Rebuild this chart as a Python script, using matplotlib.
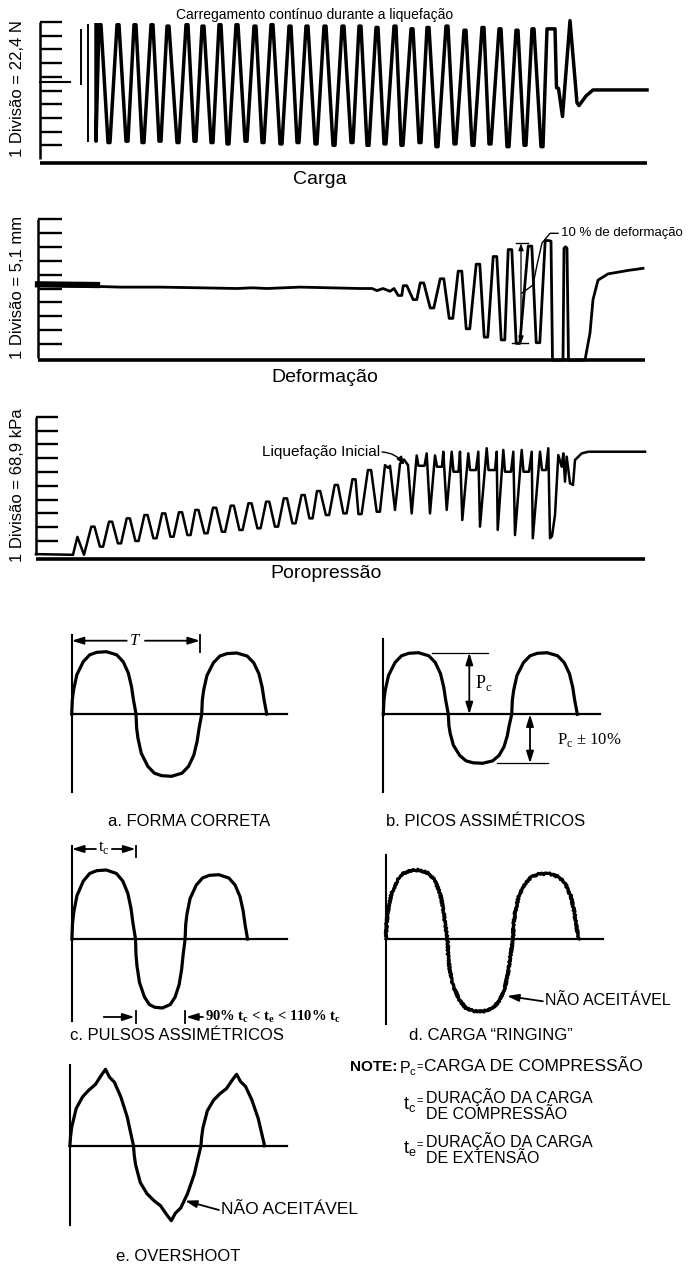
import numpy as np
import matplotlib
matplotlib.use('Agg')
import matplotlib.pyplot as plt

# ======================= DATA =======================
div_ticks = [1, 2, 3, 4, 5, 6, 7, 8, 9, 10]

# --- Panel 1 : Carga (values in divisions) ---
p1_peak_x = [100, 118, 135, 152, 168, 187, 203, 220, 237, 255, 272, 290, 307,
             325, 343, 360, 377, 395, 412, 428, 447, 465, 483, 500, 517, 533]
p1_peak_v = [9.8, 9.8, 9.8, 9.8, 9.7, 9.8, 9.7, 9.8, 9.8, 9.7, 9.8, 9.7, 9.7,
             9.7, 9.7, 9.7, 9.6, 9.7, 9.5, 9.6, 9.7, 9.4, 9.6, 9.5, 9.4, 9.5]
p1_trough_x = [109, 127, 143, 160, 178, 195, 212, 228, 246, 263, 281, 298, 316,
               334, 352, 368, 385, 402, 420, 437, 455, 473, 490, 508, 525, 542]
p1_trough_v = [1.2, 1.3, 1.2, 1.3, 1.2, 1.3, 1.2, 1.1, 1.3, 1.2, 1.1, 1.2, 1.1,
               1.0, 1.2, 1.0, 1.1, 1.0, 1.2, 0.9, 1.1, 1.0, 1.1, 0.9, 1.0, 0.9]
p1_start_x = [96, 96]
p1_start_v = [9.8, 1.3]
p1_tail_x = [547, 555, 556.5, 558.5, 562.5, 570, 577, 579, 586, 593, 647]
p1_tail_v = [9.5, 9.5, 5.2, 5.15, 3.1, 10.1, 4.1, 3.9, 4.6, 5.04, 5.04]
p1_vlines_x = [81, 88]
p1_vlines_lo = [5.5, 1.3]
p1_vlines_hi = [9.4, 9.8]

# --- Panel 2 : Deformação ---
p2_flat_x = [38, 60, 97, 120, 160, 200, 237, 252, 267, 300, 330, 360, 372, 377, 383, 390, 394]
p2_flat_v = [5.25, 5.2, 5.15, 5.1, 5.1, 5.05, 5.0, 5.05, 5.0, 5.1, 5.05, 5.0, 5.0, 4.85, 5.0, 4.8, 5.0]
p2_band_x = [38, 97]
p2_band_v = [5.3, 5.25]
p2_ext_x = [400, 405, 415, 422, 432, 442, 451, 460, 468, 478, 486, 495, 503, 510, 518, 530, 538, 547]
p2_ext_v = [4.5, 5.2, 4.2, 5.4, 3.6, 5.7, 2.85, 6.25, 2.1, 6.75, 1.5, 7.3, 1.3, 7.8, 1.05, 8.05, 1.1, 8.45]
p2_tail_x = [551, 552.5, 563, 564, 565.5, 567, 568.5, 585, 590, 593, 598, 608, 628, 643]
p2_tail_v = [8.4, -0.15, -0.15, 7.9, 8.0, 7.9, -0.15, -0.15, 1.8, 4.2, 5.6, 6.05, 6.3, 6.45]
p2_leader_x = [558, 550, 542, 537, 533, 522]
p2_leader_v = [8.97, 8.97, 8.27, 6.69, 5.25, 4.68]

# --- Panel 3 : Poropressão ---
p3_start_x = [36, 73, 77.4, 84]
p3_start_v = [0.05, 0.0, 1.3, 0.0]
p3_peak_x = [92.9, 110.6, 128.3, 146, 163.7, 180.5, 196.9, 214.6, 232.3, 250,
             267.7, 285.4, 303.1, 318.6, 336.3, 354, 369.5]
p3_peak_v = [2.04, 2.4, 2.64, 2.88, 3.0, 3.08, 3.25, 3.41, 3.56, 3.73,
             3.85, 4.09, 4.33, 4.62, 5.06, 5.47, 6.14]
p3_trough_x = [101.5, 119.5, 137, 155, 172, 189, 206, 223.5, 241, 259,
               276.5, 294, 311, 327.5, 345, 360, 378.3]
p3_trough_v = [0.59, 0.83, 1.0, 1.2, 1.31, 1.43, 1.56, 1.67, 1.8, 1.92,
               2.04, 2.28, 2.64, 2.88, 3.0, 2.95, 3.12]
p3_tail_x = [385, 388, 390, 395, 400, 404, 408, 411.7,
             416.7, 418.5, 424.5, 426.7, 430,
             435, 437, 442, 443.3, 446.7,
             451.7, 453.5, 458.5, 460, 462.3,
             468.3, 470, 476, 478.3, 480,
             486.7, 488.5, 495, 496.7, 497.7,
             503.3, 505, 511, 513.3, 515,
             521.7, 523.5, 529, 531.7, 532.8,
             540, 542, 546, 548.3, 550, 552, 555,
             558.3, 561.7, 563.3, 565, 566.7, 570, 573,
             575, 581.7, 588.3, 645]
p3_tail_v = [6.5, 6.3, 6.45, 3.25, 6.6, 6.9, 6.5, 3.0,
             7.2, 6.45, 6.45, 7.35, 3.0,
             7.2, 6.38, 6.38, 7.47, 3.25,
             7.47, 6.02, 6.02, 7.47, 2.52,
             7.35, 6.14, 6.14, 7.47, 2.04,
             7.72, 6.14, 6.14, 7.47, 1.8,
             7.6, 6.02, 6.02, 7.47, 1.43,
             7.6, 6.02, 6.02, 7.47, 1.2,
             7.47, 6.14, 6.14, 7.72, 1.2, 1.35, 2.88,
             7.23, 6.38, 7.35, 5.3, 7.11, 5.18, 5.06,
             6.87, 7.35, 7.47, 7.47]

# --- Pulse-shape diagrams (half-wave durations and amplitudes, px) ---
half_prof_t = [0, 0.01, 0.03, 0.08, 0.18, 0.28, 0.39, 0.54, 0.70, 0.80, 0.88, 0.93, 0.96, 0.99, 1.0]
half_prof_v = [0, 0.23, 0.39, 0.63, 0.84, 0.95, 0.99, 1.0, 0.95, 0.84, 0.66, 0.44, 0.23, 0.06, 0]
over_prof_t = [0, 0.01, 0.03, 0.1, 0.2, 0.3, 0.4, 0.5, 0.56, 0.62, 0.7, 0.8, 0.9, 0.96, 1.0]
over_prof_v = [0, 0.12, 0.25, 0.49, 0.64, 0.73, 0.8, 0.93, 1.0, 0.9, 0.83, 0.64, 0.38, 0.15, 0]

a_durs = [64.3, 65.7, 65.0];  a_amps = [62.3, -62.3, 61.0]
b_durs = [65.0, 63.4, 65.6];  b_amps = [61.6, -49.0, 61.6]
c_durs = [63.6, 49.6, 62.4];  c_amps = [69.0, -69.0, 64.3]
d_durs = [61.6, 65.5, 65.6];  d_amps = [69.0, -72.6, 65.4]
e_durs = [63.6, 67.5, 63.6];  e_amps = [76.4, -75.0, 71.4]

# ======================= FIGURE =======================
W, H = 690, 1265
plt.rcParams['font.family'] = ['Liberation Sans', 'DejaVu Sans']
fig = plt.figure(figsize=(W / 100, H / 100), dpi=100)
fig.patch.set_facecolor('white')
K = 'black'


def px_axes(x0, y0, x1, y1):
    ax = fig.add_axes([x0 / W, 1 - y1 / H, (x1 - x0) / W, (y1 - y0) / H])
    ax.axis('off')
    return ax


def ftext(x, y, s, **kw):
    kw.setdefault('ha', 'center')
    kw.setdefault('va', 'center')
    fig.text(x / W, 1 - y / H, s, **kw)


def strip_axes(top, bottom, zero, ppd):
    ax = px_axes(0, top, W, bottom)
    ax.set_xlim(0, W)
    ax.set_ylim((zero - bottom) / ppd, (zero - top) / ppd)
    return ax


def draw_scale(ax, spine_x, tick_end, base_v, base_end):
    ax.plot([spine_x, spine_x], [0, div_ticks[-1]], color=K, lw=1.8, solid_capstyle='butt')
    for t in div_ticks:
        ax.plot([spine_x, tick_end], [t, t], color=K, lw=1.7, solid_capstyle='butt')
    ax.plot([spine_x, base_end], [base_v, base_v], color=K, lw=2.6, solid_capstyle='butt')


def interleave(ax_, av, bx, bv):
    x = np.empty(len(ax_) + len(bx))
    v = np.empty_like(x)
    x[0::2], x[1::2] = ax_, bx
    v[0::2], v[1::2] = av, bv
    return x, v


def widen(xs, vs, w):
    ox, ov = [], []
    for xc, vc in zip(xs, vs):
        ox += [xc - w, xc + w]
        ov += [vc, vc]
    return ox, ov


# ---------- Panel 1 ----------
ax1 = strip_axes(0, 200, 159, 13.7)
draw_scale(ax1, 40, 62, -0.31, 647)
ax1.plot([40, 70], [5.6, 5.6], color=K, lw=1.5)
zx, zv = interleave(p1_peak_x, p1_peak_v, p1_trough_x, p1_trough_v)
zx, zv = widen(zx, zv, 1.0)
x1 = np.concatenate([p1_start_x, zx, p1_tail_x])
v1 = np.concatenate([p1_start_v, zv, p1_tail_v])
ax1.plot(x1, v1, color=K, lw=2.5, solid_joinstyle='round')
for xv, lo, hi in zip(p1_vlines_x, p1_vlines_lo, p1_vlines_hi):
    ax1.plot([xv, xv], [lo, hi], color=K, lw=1.4)
ftext(315, 15, 'Carregamento contínuo durante a liquefação', fontsize=10)
ftext(320, 180, 'Carga', fontsize=14)
ftext(18, 89, '1 Divisão = 22,4 N', fontsize=12, rotation=90)

# ---------- Panel 2 ----------
ax2 = strip_axes(200, 390, 358, 13.9)
draw_scale(ax2, 38.3, 61.7, -0.15, 645)
ax2.plot(p2_band_x, p2_band_v, color=K, lw=4.5)
ex, ev = widen(p2_ext_x, p2_ext_v, 1.8)
x2 = np.concatenate([p2_flat_x, ex, p2_tail_x])
v2 = np.concatenate([p2_flat_v, ev, p2_tail_v])
ax2.plot(x2, v2, color=K, lw=2.0, solid_joinstyle='round')
ax2.plot(p2_leader_x, p2_leader_v, color=K, lw=1.0)
ax2.annotate('', xy=(521, 8.25), xytext=(521, 1.06),
             arrowprops=dict(arrowstyle='<|-|>,head_length=0.4,head_width=0.15',
                             lw=0.9, color=K, shrinkA=0, shrinkB=0))
ax2.plot([516, 528], [8.25, 8.25], color=K, lw=1.0)
ax2.plot([512, 528], [1.06, 1.06], color=K, lw=1.0)
ftext(561, 233.3, '10 % de deformação', fontsize=9.5, ha='left')
ftext(325, 377, 'Deformação', fontsize=14)
ftext(18, 287.5, '1 Divisão = 5,1 mm', fontsize=12, rotation=90)

# ---------- Panel 3 ----------
ax3 = strip_axes(390, 600, 554.8, 13.8)
draw_scale(ax3, 36, 57.5, -0.3, 645)
zx3, zv3 = interleave(p3_peak_x, p3_peak_v, p3_trough_x, p3_trough_v)
zx3, zv3 = widen(zx3, zv3, 1.6)
x3 = np.concatenate([p3_start_x, zx3, p3_tail_x])
v3 = np.concatenate([p3_start_v, zv3, p3_tail_v])
ax3.plot(x3, v3, color=K, lw=1.8, solid_joinstyle='round')
ax3.annotate('', xy=(404.3, 6.5), xytext=(382, 7.45),
             arrowprops=dict(arrowstyle='-|>,head_length=0.5,head_width=0.18',
                             connectionstyle='arc3,rad=-0.25', lw=1.0, color=K,
                             shrinkA=0, shrinkB=0))
ftext(380, 451.7, 'Liquefação Inicial', fontsize=11, ha='right')
ftext(326, 574, 'Poropressão', fontsize=14)
ftext(18, 485, '1 Divisão = 68,9 kPa', fontsize=12, rotation=90)


# ---------- Pulse diagrams ----------
def diag_axes(ox, oy, x0, x1, y0, y1):
    ax = px_axes(x0, y0, x1, y1)
    ax.set_xlim(x0 - ox, x1 - ox)
    ax.set_ylim(oy - y1, oy - y0)
    return ax


def wave(durs, amps, pt, pv):
    xs, ys, t0 = [], [], 0.0
    for d, a in zip(durs, amps):
        xs.extend(t0 + np.asarray(pt) * d)
        ys.extend(a * np.asarray(pv))
        t0 += d
    return np.array(xs), np.array(ys)


def frame(ax, ylo, yhi, xlen):
    ax.plot([0, 0], [ylo, yhi], color=K, lw=1.5)
    ax.plot([0, xlen], [0, 0], color=K, lw=1.6)


def arrow(ax, x0, y0, x1, y1, style='-|>', lw=1.3):
    ax.annotate('', xy=(x1, y1), xytext=(x0, y0),
                arrowprops=dict(arrowstyle=style + ',head_length=0.7,head_width=0.22',
                                lw=lw, color=K, shrinkA=0, shrinkB=0))


WLW = 2.3
serif = ['Liberation Serif', 'DejaVu Serif']

# a
axa = diag_axes(71.7, 714, 55, 300, 625, 805)
frame(axa, -78, 79, 215.3)
wx, wy = wave(a_durs, a_amps, half_prof_t, half_prof_v)
axa.plot(wx, wy, color=K, lw=WLW, solid_joinstyle='round')
arrow(axa, 55, 73.3, 0, 73.3)
arrow(axa, 73.3, 73.3, 128.3, 73.3)
axa.plot([128.3, 128.3], [62.3, 79], color=K, lw=1.3)
axa.text(63.3, 73.3, 'T', fontsize=12, style='italic', family=serif, ha='center', va='center')
ftext(189, 822, 'a. FORMA CORRETA', fontsize=12)

# b
axb = diag_axes(383.3, 714.3, 370, 640, 625, 805)
frame(axb, -77.7, 75.3, 216.7)
wx, wy = wave(b_durs, b_amps, half_prof_t, half_prof_v)
axb.plot(wx, wy, color=K, lw=WLW, solid_joinstyle='round')
axb.plot([48.4, 105], [61.6, 61.6], color=K, lw=0.9)
arrow(axb, 86, 0, 86, 61.6, style='<|-|>')
axb.text(92, 31, r'P$_\mathregular{c}$', fontsize=13, family=serif, ha='left', va='center')
axb.plot([113.4, 165], [-49, -49], color=K, lw=0.9)
arrow(axb, 146.7, 0, 146.7, -49, style='<|-|>')
axb.text(173.4, -25.7, r'P$_\mathregular{c}$ ± 10%', fontsize=12, family=serif, ha='left', va='center')
ftext(486, 822, 'b. PICOS ASSIMÉTRICOS', fontsize=12)

# c
axc = diag_axes(71.9, 939, 55, 380, 840, 1024)
frame(axc, -81.7, 93, 214.6)
wx, wy = wave(c_durs, c_amps, half_prof_t, half_prof_v)
axc.plot(wx, wy, color=K, lw=WLW, solid_joinstyle='round')
arrow(axc, 24, 90, 0, 90)
arrow(axc, 40, 90, 63.6, 90)
axc.plot([63.6, 63.6], [82, 93], color=K, lw=1.3)
axc.text(31.8, 91, r't$_\mathregular{c}$', fontsize=12, family=serif, ha='center', va='center')
arrow(axc, 31.8, -78, 62.6, -78)
axc.plot([63.6, 63.6], [-72, -84], color=K, lw=1.3)
axc.plot([113.2, 113.2], [-72, -84], color=K, lw=1.3)
arrow(axc, 131.1, -78, 114.2, -78)
axc.text(133, -78, r'90% t$_\mathregular{c}$ < t$_\mathregular{e}$ < 110% t$_\mathregular{c}$',
         fontsize=10.5, family=serif, weight='bold', ha='left', va='center')
ftext(177, 1035, 'c. PULSOS ASSIMÉTRICOS', fontsize=12)

# d
axd = diag_axes(385.9, 939, 370, 680, 845, 1028)
frame(axd, -85.4, 83.6, 216.6)
wx, wy = wave(d_durs, d_amps, half_prof_t, half_prof_v)
ln, = axd.plot(wx, wy, color=K, lw=WLW, solid_joinstyle='round')
ln.set_sketch_params(scale=0.9, length=3.0, randomness=2.0)
arrow(axd, 157, -62.3, 121.1, -57)
axd.text(158.9, -61.7, 'NÃO ACEITÁVEL', fontsize=11.5, ha='left', va='center')
ftext(491, 1035, 'd. CARGA \u201cRINGING\u201d', fontsize=12)

# e
axe = diag_axes(69.9, 1145.7, 55, 380, 1060, 1232)
frame(axe, -79.3, 80.7, 216.6)
wx, wy = wave(e_durs, e_amps, over_prof_t, over_prof_v)
axe.plot(wx, wy, color=K, lw=WLW, solid_joinstyle='round')
arrow(axe, 149, -64.3, 115.1, -55)
axe.text(151.1, -64.3, 'NÃO ACEITÁVEL', fontsize=12.5, ha='left', va='center')
ftext(178, 1256.7, 'e. OVERSHOOT', fontsize=12)

# NOTE block
ftext(350, 1066.7, 'NOTE:', fontsize=11, weight='bold', ha='left')
ftext(399, 1068.5, r'P$_\mathregular{c}$', fontsize=11.5, ha='left')
ftext(416, 1066.7, '=', fontsize=8, ha='left')
ftext(424, 1066.7, 'CARGA DE COMPRESSÃO', fontsize=12.5, ha='left')
ftext(403, 1105, r't$_\mathregular{c}$', fontsize=13, ha='left')
ftext(416.5, 1101, '=', fontsize=8, ha='left')
ftext(425.6, 1097.5, 'DURAÇÃO DA CARGA', fontsize=11.5, ha='left')
ftext(425.6, 1114.5, 'DE COMPRESSÃO', fontsize=11.5, ha='left')
ftext(403, 1149, r't$_\mathregular{e}$', fontsize=13, ha='left')
ftext(416.5, 1145, '=', fontsize=8, ha='left')
ftext(425.6, 1141.5, 'DURAÇÃO DA CARGA', fontsize=11.5, ha='left')
ftext(425.6, 1158.5, 'DE EXTENSÃO', fontsize=11.5, ha='left')

fig.savefig('out.png', dpi=100, facecolor='white')
